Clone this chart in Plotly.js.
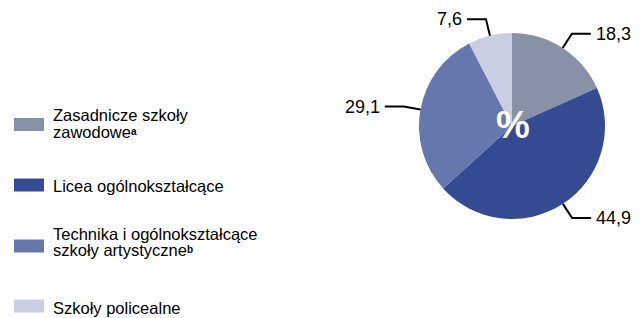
<!DOCTYPE html>
<html>
<head>
<meta charset="utf-8">
<script src="https://cdn.plot.ly/plotly-3.0.1.min.js"></script>
<style>
  html, body { margin: 0; padding: 0; background: #ffffff; }
  #chart { width: 644px; height: 318px; }
</style>
</head>
<body>
<div id="chart"></div>
<script>
// ---- data ----
const categories = [
  'Zasadnicze szkoły zawodowe',
  'Licea ogólnokształcące',
  'Technika i ogólnokształcące szkoły artystyczne',
  'Szkoły policealne'
];
const legendLines = [
  ['Zasadnicze szkoły', 'zawodowe<span style="font-size:10px;font-weight:bold;baseline-shift:3px">a</span>'],
  ['Licea ogólnokształcące'],
  ['Technika i ogólnokształcące', 'szkoły artystyczne<span style="font-size:10px;font-weight:bold;baseline-shift:3px">b</span>'],
  ['Szkoły policealne']
];
const values = [18.3, 44.9, 29.1, 7.6];
const valueLabels = ['18,3', '44,9', '29,1', '7,6'];
const colors = ['#8792a6', '#344a93', '#6677ae', '#c9cee2'];
const centerLabel = '%';

// ---- layout geometry (pixels) ----
const W = 644, H = 318;
const cx = 512, cy = 126, R = 93;
const legendSquareY = [124.5, 185, 246, 306];
const legendTextOffset = [-1, 1, -4, 2];
const FONT = 'Arial, "Liberation Sans", sans-serif';

const px = x => x / W;
const py = y => 1 - y / H;

const shapes = [];
const annotations = [];

// leader lines and value labels
const total = values.reduce((a, b) => a + b, 0);
let cum = 0;
values.forEach((v, i) => {
  const mid = (cum + v / 2) / total;
  cum += v;
  const th = 2 * Math.PI * mid;
  const dx = Math.sin(th), dy = -Math.cos(th);
  const x0 = cx + R * dx, y0 = cy + R * dy;
  const x1 = x0 + 17 * dx, y1 = y0 + 17 * dy;
  const side = dx >= 0 ? 1 : -1;
  const x2 = x1 + side * 19;
  shapes.push({
    type: 'path', xref: 'paper', yref: 'paper',
    path: `M ${px(x0)} ${py(y0)} L ${px(x1)} ${py(y1)} L ${px(x2)} ${py(y1)}`,
    line: { color: '#000000', width: 2 }
  });
  annotations.push({
    xref: 'paper', yref: 'paper', x: px(x2 + side * 3), y: py(y1),
    xanchor: side > 0 ? 'left' : 'right', yanchor: 'middle',
    text: valueLabels[i], showarrow: false,
    font: { family: FONT, size: 18, color: '#000000' }
  });
});

// custom legend
legendLines.forEach((lines, i) => {
  const yc = legendSquareY[i];
  shapes.push({
    type: 'rect', xref: 'paper', yref: 'paper',
    x0: px(14), x1: px(44), y0: py(yc - 6.5), y1: py(yc + 6.5),
    fillcolor: colors[i], line: { width: 0 }
  });
  const n = lines.length;
  lines.forEach((t, j) => {
    const ty = yc + legendTextOffset[i] + (j - (n - 1) / 2) * 16;
    annotations.push({
      xref: 'paper', yref: 'paper', x: px(51), y: py(ty),
      xanchor: 'left', yanchor: 'middle',
      text: t, showarrow: false,
      font: { family: FONT, size: 16.5, color: '#000000' }
    });
  });
});

// center label
annotations.push({
  xref: 'paper', yref: 'paper', x: px(513), y: py(125),
  xanchor: 'center', yanchor: 'middle',
  text: '<b>' + centerLabel + '</b>', showarrow: false,
  font: { family: FONT, size: 38, color: '#ffffff' }
});

const trace = {
  type: 'pie',
  labels: categories,
  values: values,
  sort: false,
  direction: 'clockwise',
  rotation: 0,
  marker: { colors: colors, line: { width: 0 } },
  textinfo: 'none',
  hoverinfo: 'none',
  showlegend: false,
  domain: { x: [px(cx - R), px(cx + R)], y: [py(cy + R), py(cy - R)] }
};

const layout = {
  width: W, height: H,
  margin: { l: 0, r: 0, t: 0, b: 0 },
  paper_bgcolor: '#ffffff',
  plot_bgcolor: '#ffffff',
  showlegend: false,
  font: { family: FONT },
  shapes: shapes,
  annotations: annotations
};

Plotly.newPlot('chart', [trace], layout, { staticPlot: true, displayModeBar: false });
</script>
</body>
</html>
